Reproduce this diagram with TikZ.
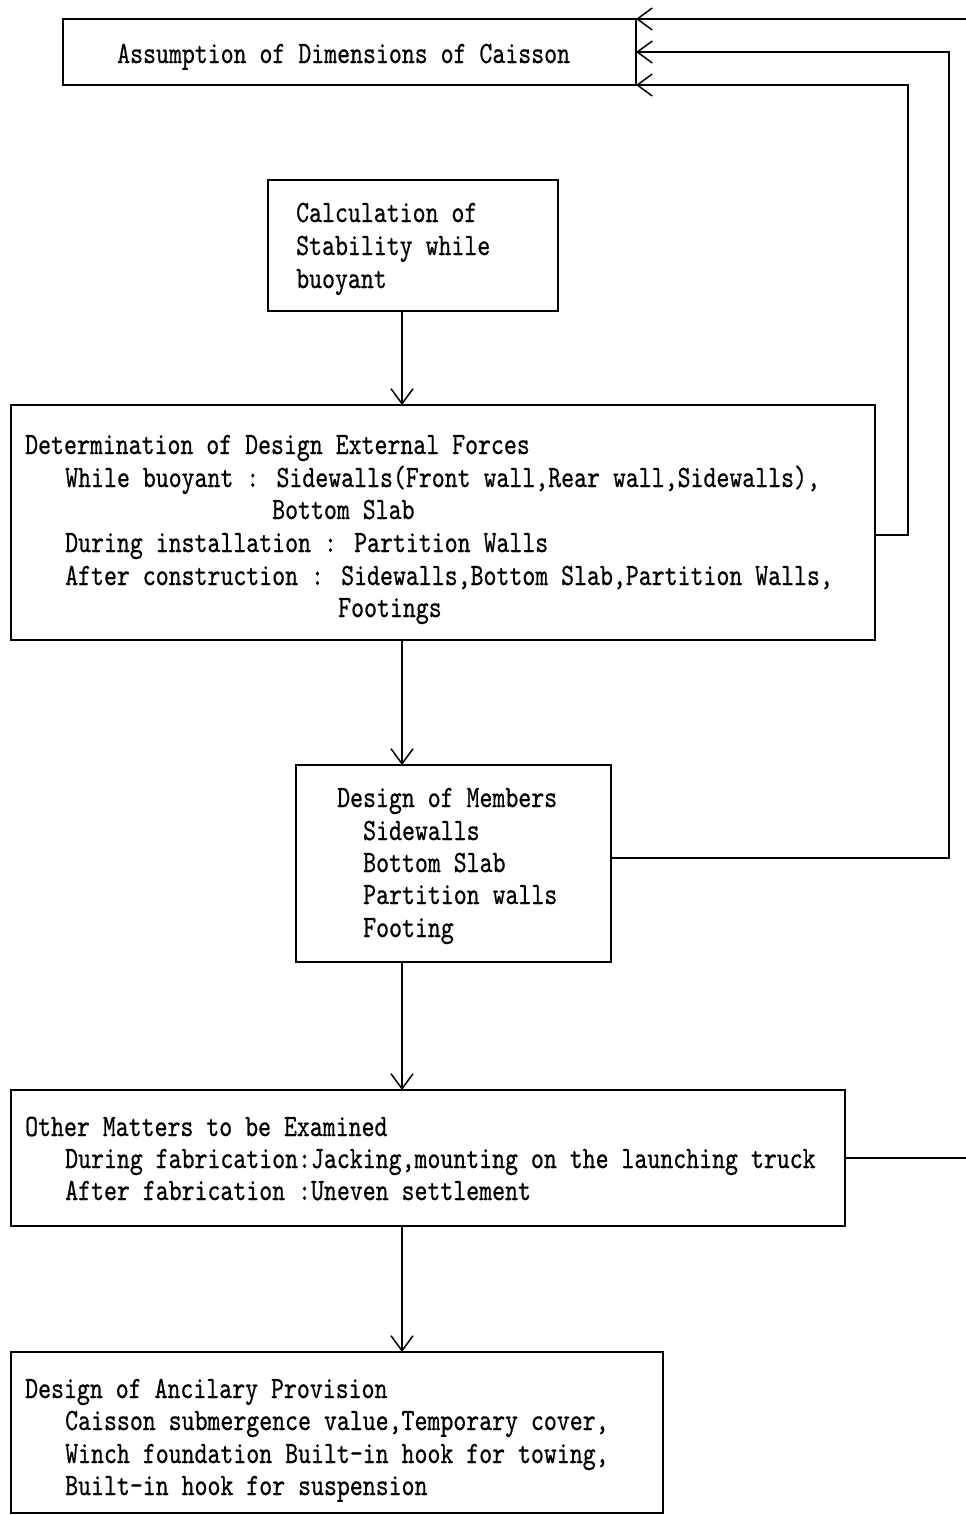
\documentclass[tikz,border=0pt]{standalone}
\usepackage{fontspec}
\newfontfamily\jtt[Extension=.otf,FakeStretch=0.795,FakeBold=0.6]{lmmono10-regular}
\usetikzlibrary{arrows.meta}
\begin{document}
\begin{tikzpicture}[x=1pt,y=-1pt,
  box/.style={draw,line width=1.5pt,anchor=north west,inner sep=0pt,outer sep=0pt},
  txt/.style={anchor=base west,inner sep=0pt,font=\jtt\fontsize{31}{33}\selectfont},
  conn/.style={line width=1.5pt},
  arr/.style={line width=1.5pt,-{Straight Barb[length=15pt,width=22pt,line width=1.5pt]}}]
\useasboundingbox (0,0) rectangle (966,1515);
% boxes
\node[box,minimum width=573pt,minimum height=66pt] (b1) at (63,19) {};
\node[box,minimum width=290pt,minimum height=131pt] (b2) at (268,180) {};
\node[box,minimum width=864pt,minimum height=235pt] (b3) at (11,405) {};
\node[box,minimum width=315pt,minimum height=197pt] (b4) at (296,765) {};
\node[box,minimum width=834pt,minimum height=136pt] (b5) at (11,1090) {};
\node[box,minimum width=652pt,minimum height=161pt] (b6) at (11,1352) {};
% texts
\node[txt] (t1) at (117,63) {Assumption of Dimensions of Caisson};
\node[txt] (t2a) at (296,222) {Calculation of};
\node[txt] (t2b) at (296,255) {Stability while};
\node[txt] (t2c) at (296,288) {buoyant};
\node[txt] (t3a) at (25,454) {Determination of Design External Forces};
\node[txt] (t3b) at (65,487) {While buoyant : Sidewalls(Front wall,Rear wall,Sidewalls),};
\node[txt] (t3c) at (272,519) {Bottom Slab};
\node[txt] (t3d) at (65,552) {During installation : Partition Walls};
\node[txt] (t3e) at (65,585) {After construction : Sidewalls,Bottom Slab,Partition Walls,};
\node[txt] (t3f) at (338,617) {Footings};
\node[txt] (t4a) at (337,807) {Design of Members};
\node[txt] (t4b) at (363,840) {Sidewalls};
\node[txt] (t4c) at (363,872) {Bottom Slab};
\node[txt] (t4d) at (363,904) {Partition walls};
\node[txt] (t4e) at (363,937) {Footing};
\node[txt] (t5a) at (25,1136) {Other Matters to be Examined};
\node[txt] (t5b) at (65,1168) {During fabrication:Jacking,mounting on the launching truck};
\node[txt] (t5c) at (65,1200) {After fabrication :Uneven settlement};
\node[txt] (t6a) at (25,1398) {Design of Ancilary Provision};
\node[txt] (t6b) at (65,1430) {Caisson submergence value,Temporary cover,};
\node[txt] (t6c) at (65,1463) {Winch foundation Built-in hook for towing,};
\node[txt] (t6d) at (65,1495) {Built-in hook for suspension};
% helper coordinates
\coordinate (ax) at (402,0);
\coordinate (r1) at (908,535);
\coordinate (r2) at (949,858);
\coordinate (r3) at (966,19);
\coordinate (r4) at (966,1158);
% main flow
\draw[arr] (b2.south -| ax) -- (b3.north -| ax);
\draw[arr] (b3.south -| ax) -- (b4.north -| ax);
\draw[arr] (b4.south -| ax) -- (b5.north -| ax);
\draw[arr] (b5.south -| ax) -- (b6.north -| ax);
% feedback loops
\draw[arr] (b3.east |- r1) -- (r1) |- (b1.south east);
\draw[arr] (b4.east |- r2) -- (r2) |- (b1.east);
\draw[arr] (r3) -- (b1.north east);
\draw[conn] (b5.east |- r4) -- (r4);
\end{tikzpicture}
\end{document}
